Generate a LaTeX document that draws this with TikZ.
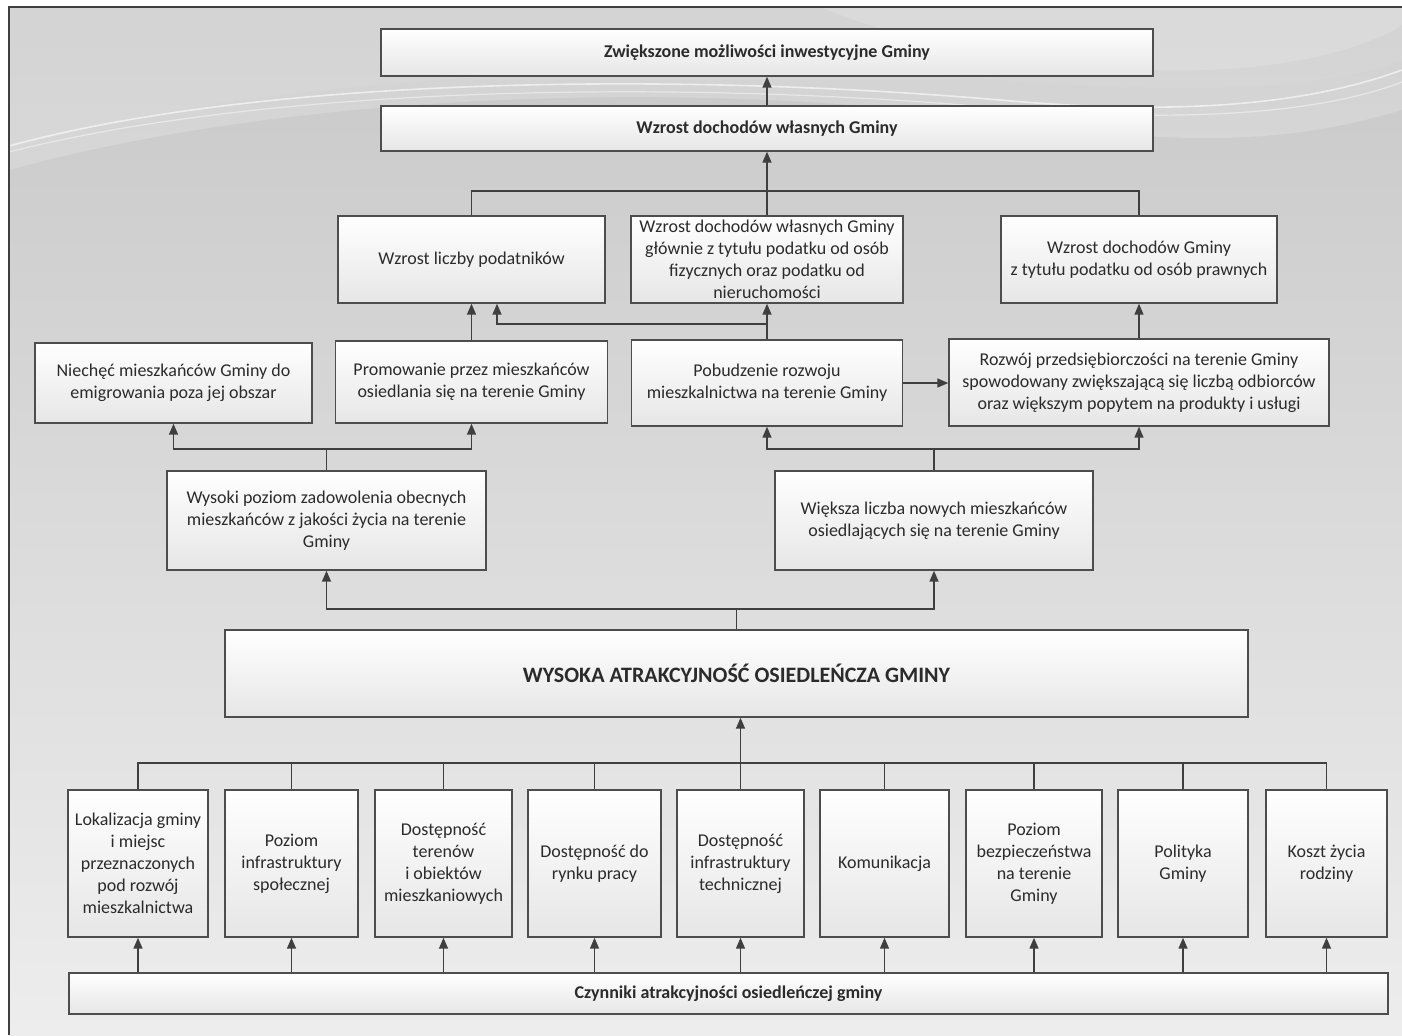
\documentclass[tikz,border=0pt]{standalone}
\usepackage{fontspec}
\setmainfont{Carlito}
\usetikzlibrary{arrows.meta}
\definecolor{ln}{HTML}{3F3F3F}
\definecolor{bx}{HTML}{4D4D4D}
\definecolor{tx}{HTML}{2B2B2B}
\definecolor{bgtop}{HTML}{C8C8C8}
\definecolor{bgbot}{HTML}{EDEDED}
\definecolor{boxbot}{HTML}{E6E6E6}
\begin{document}
\begin{tikzpicture}[x=0.5pt,y=-0.5pt,
 box/.style={draw=bx, line width=0.7pt, top color=white, bottom color=boxbot, text=tx, align=center, font=\fontsize{9}{11}\selectfont, inner sep=1pt},
 bbox/.style={box, font=\bfseries\fontsize{9}{11}\selectfont},
 conn/.style={draw=ln, line width=0.75pt},
 arr/.style={conn, -{Triangle[length=5.5pt,width=4.5pt]}}]
\useasboundingbox (0,0) rectangle (1402,1035);
\fill[white] (0,0) rectangle (1402,1035);
\shade[top color=bgtop, bottom color=bgbot] (9,7) rectangle (1402,1035);
% background swooshes
\fill[white, opacity=0.22] (9,7) -- (9,150) .. controls (250,70) and (700,60) .. (1000,80) .. controls (1200,95) and (1320,90) .. (1402,60) -- (1402,7) -- cycle;
\fill[white, opacity=0.18] (9,150) .. controls (250,70) and (700,60) .. (1000,80) .. controls (1200,95) and (1320,90) .. (1402,60) -- (1402,110) .. controls (1300,140) and (1200,150) .. (1000,120) .. controls (700,80) and (300,90) .. (9,170) -- cycle;
\draw[white, opacity=0.6, line width=0.8pt] (9,146) .. controls (250,80) and (650,70) .. (1000,100) .. controls (1200,118) and (1320,100) .. (1402,70);
\draw[white, opacity=0.45, line width=0.6pt] (9,152) .. controls (260,88) and (660,78) .. (1000,108) .. controls (1200,125) and (1330,110) .. (1402,82);
\fill[white, opacity=0.15] (820,7) .. controls (900,40) and (1000,60) .. (1150,70) .. controls (1300,75) and (1380,40) .. (1402,25) -- (1402,7) -- cycle;
\draw[ln, line width=1pt] (9,1035) -- (9,7) -- (1402,7);

% nodes
\node[bbox, minimum width=386pt, minimum height=23.5pt] (top) at (767,52.5) {Zwiększone możliwości inwestycyjne Gminy};
\node[bbox, minimum width=386pt, minimum height=22.5pt] (inc) at (767,128.5) {Wzrost dochodów własnych Gminy};

\node[box, minimum width=133.5pt, minimum height=43.5pt] (podat) at (471.5,259.5) {Wzrost liczby podatników};
\node[box, minimum width=136pt, minimum height=43.5pt] (mid) at (767,259.5) {Wzrost dochodów własnych Gminy\\głównie z tytułu podatku od osób\\fizycznych oraz podatku od\\nieruchomości};
\node[box, minimum width=138pt, minimum height=43.5pt] (praw) at (1139,259.5) {Wzrost dochodów Gminy\\z tytułu podatku od osób prawnych};

\node[box, minimum width=138.5pt, minimum height=40pt] (niech) at (173.5,383) {Niechęć mieszkańców Gminy do\\emigrowania poza jej obszar};
\node[box, minimum width=136pt, minimum height=41pt] (prom) at (471.5,382) {Promowanie przez mieszkańców\\osiedlania się na terenie Gminy};
\node[box, minimum width=135.5pt, minimum height=43pt] (pob) at (767,383) {Pobudzenie rozwoju\\mieszkalnictwa na terenie Gminy};
\node[box, minimum width=190pt, minimum height=43.5pt] (roz) at (1139,382.5) {Rozwój przedsiębiorczości na terenie Gminy\\spowodowany zwiększającą się liczbą odbiorców\\oraz większym popytem na produkty i usługi};

\node[box, minimum width=159.5pt, minimum height=49.5pt] (wys) at (326.5,520.5) {Wysoki poziom zadowolenia obecnych\\mieszkańców z jakości życia na terenie\\Gminy};
\node[box, minimum width=159pt, minimum height=49.5pt] (wiek) at (934,520.5) {Większa liczba nowych mieszkańców\\osiedlających się na terenie Gminy};

\node[box, minimum width=511.5pt, minimum height=43.5pt, font=\bfseries\fontsize{11}{13}\selectfont] (big) at (736.5,673.5) {WYSOKA ATRAKCYJNOŚĆ OSIEDLEŃCZA GMINY};

\node[box, minimum width=70pt, minimum height=73.5pt] (b1) at (138,863.5) {Lokalizacja gminy\\i miejsc\\przeznaczonych\\pod rozwój\\mieszkalnictwa};
\node[box, minimum width=66.5pt, minimum height=73.5pt] (b2) at (291.5,863.5) {Poziom\\infrastruktury\\społecznej};
\node[box, minimum width=68.5pt, minimum height=73.5pt] (b3) at (443.5,863.5) {Dostępność\\terenów\\i obiektów\\mieszkaniowych};
\node[box, minimum width=66.5pt, minimum height=73.5pt] (b4) at (594.5,863.5) {Dostępność do\\rynku pracy};
\node[box, minimum width=63.5pt, minimum height=73.5pt] (b5) at (740.5,863.5) {Dostępność\\infrastruktury\\technicznej};
\node[box, minimum width=64.5pt, minimum height=73.5pt] (b6) at (884.5,863.5) {Komunikacja};
\node[box, minimum width=68pt, minimum height=73.5pt] (b7) at (1034,863.5) {Poziom\\bezpieczeństwa\\na terenie\\Gminy};
\node[box, minimum width=65pt, minimum height=73.5pt] (b8) at (1183,863.5) {Polityka\\Gminy};
\node[box, minimum width=60.5pt, minimum height=73.5pt] (b9) at (1326.5,863.5) {Koszt życia\\rodziny};

\node[bbox, minimum width=659.5pt, minimum height=20.5pt] (cz) at (728.5,993.5) {Czynniki atrakcyjności osiedleńczej gminy};

% junction coordinates
\coordinate (j1) at (767,191);
\coordinate (j2) at (767,324);
\coordinate (j3) at (326.5,449);
\coordinate (j4) at (934,449);
\coordinate (j5) at (736.5,609);
\coordinate (j6) at (740.5,763);

% connectors
\draw[arr] (inc.north) -- (top.south);
\draw[conn] (podat.north) |- (j1) -| (praw.north);
\draw[arr] (mid.north) -- (inc.south);
\draw[arr] (prom.north) -- (prom.north |- podat.south);
\draw[arr] (pob.north) -- (mid.south);
\draw[arr] (j2) -| ([xshift=12.75pt]podat.south);
\draw[arr] (roz.north) -- (praw.south);
\draw[arr] (pob.east) -- (pob.east -| roz.west);
\draw[conn] (wys.north) -- (j3);
\draw[arr] (j3) -| (niech.south);
\draw[arr] (j3) -| (prom.south);
\draw[conn] (wiek.north) -- (j4);
\draw[arr] (j4) -| (pob.south);
\draw[arr] (j4) -| (roz.south);
\draw[conn] (big.north) -- (j5);
\draw[arr] (j5) -| (wys.south);
\draw[arr] (j5) -| (wiek.south);
\draw[conn] (b1.north) |- (j6) -| (b9.north);
\foreach \b in {b2,b3,b4,b5,b6,b7,b8} \draw[conn] (\b.north) -- (\b.north |- j6);
\draw[arr] (j6) -- (j6 |- big.south);
\foreach \b in {b1,b2,b3,b4,b5,b6,b7,b8,b9} \draw[arr] (\b.south |- cz.north) -- (\b.south);
\end{tikzpicture}
\end{document}
